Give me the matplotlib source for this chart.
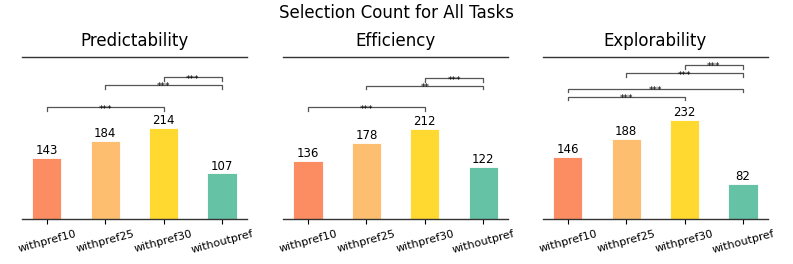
import matplotlib

matplotlib.use("Agg")
import matplotlib.pyplot as plt
from matplotlib.transforms import Bbox, TransformedBbox

# data
groups = ["withpref10", "withpref25", "withpref30", "withoutpref"]
panels = ["Predictability", "Efficiency", "Explorability"]
counts = {
    "Predictability": [143, 184, 214, 107],
    "Efficiency": [136, 178, 212, 122],
    "Explorability": [146, 188, 232, 82],
}
# significance brackets: (left bar, right bar, label, height)
brackets = {
    "Predictability": [(0, 2, "***", 262), (1, 3, "***", 315), (2, 3, "***", 332)],
    "Efficiency": [(0, 2, "***", 262), (1, 3, "**", 313), (2, 3, "***", 330)],
    "Explorability": [(0, 2, "***", 287), (0, 3, "***", 306),
                      (1, 3, "***", 342), (2, 3, "***", 362)],
}

colors = ["#FC8D62", "#FDBF6F", "#FFD92F", "#66C2A5"]

fig = plt.figure(figsize=(7.93, 2.64), dpi=100)
lefts = [0.0277, 0.357, 0.6847]

for left, name in zip(lefts, panels):
    ax = fig.add_axes([left, 0.1705, 0.2837, 0.6136])
    vals = counts[name]
    bars = ax.bar(range(len(groups)), vals, width=0.5, color=colors,
                  edgecolor="white", linewidth=0.6)
    for b, v in zip(bars, vals):
        ax.text(b.get_x() + b.get_width() / 2, v + 2, str(v),
                ha="center", va="bottom", fontsize=8.5)

    for i, j, lab, h in brackets[name]:
        ax.plot([i, i, j, j], [h - 9, h, h, h - 9], color="#555555", lw=0.9)
        ax.text((i + j) / 2, h - 5, lab, ha="center", va="center", fontsize=6.5)

    ax.set_ylim(0, 380)
    ax.set_title(name, fontsize=12, pad=8)
    ax.set_yticks([])
    ax.set_xticks(range(len(groups)))
    ax.set_xticklabels(groups, rotation=15, fontsize=8)
    clip = TransformedBbox(Bbox([[-0.2, -1.0], [1.022, 1.0]]), ax.transAxes)
    for t in ax.get_xticklabels():
        t.set_clip_box(clip)
        t.set_clip_on(True)
    for s in ("left", "right"):
        ax.spines[s].set_visible(False)
    for s in ("top", "bottom"):
        ax.spines[s].set_color("#333333")
        ax.spines[s].set_linewidth(1.0)

fig.suptitle("Selection Count for All Tasks", fontsize=12, y=0.985)
fig.savefig("out.png", dpi=100)
